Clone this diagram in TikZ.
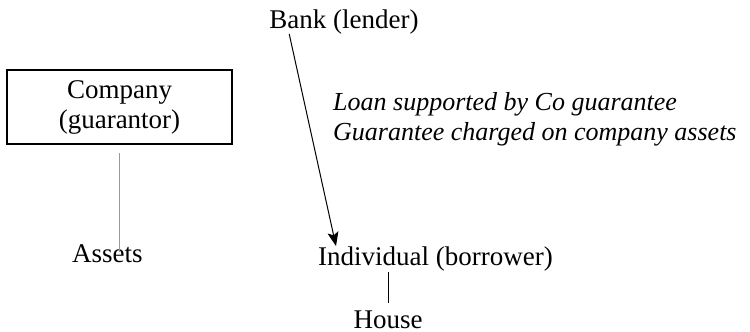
\documentclass[tikz,border=0pt]{standalone}
\usepackage{fontspec}
\setmainfont{Liberation Serif}
\usetikzlibrary{arrows.meta}
\tikzset{
  lbl/.style={inner sep=0pt, font=\fontsize{27}{30}\selectfont},
  boxnode/.style={draw, line width=2.8pt, inner sep=0pt, minimum width=225pt, minimum height=74pt, align=center, font=\fontsize{27}{30}\selectfont},
  note/.style={inner sep=0pt, align=left, font=\fontsize{26}{30}\selectfont\itshape},
  link/.style={line width=1pt, -{Stealth[length=14pt,width=11pt,inset=3pt]}},
  tie/.style={line width=1pt},
  greytie/.style={line width=1.5pt, black!40}
}
\begin{document}
\begin{tikzpicture}[x=1pt,y=-1pt]
\useasboundingbox (0,0) rectangle (750,332);
\node[lbl, anchor=base] (bank) at (344,28) {Bank (lender)};
\node[boxnode] (company) at (119.5,107) {Company\\(guarantor)};
\node[note, anchor=base west] (notes) at (333,140) {Loan supported by Co guarantee\\Guarantee charged on company assets};
\node[lbl, anchor=base west] (assets) at (72,262) {Assets};
\node[lbl, anchor=base west] (ind) at (318,265) {Individual (borrower)};
\node[lbl, anchor=base] (house) at (388,328) {House};
\draw[link] ([xshift=20pt]bank.south west) -- ([xshift=18pt]ind.north west);
\draw[greytie] ([yshift=-8pt]company.south) -- ([yshift=-8pt]company.south |- assets.north);
\draw[tie] ([yshift=-1pt]house.north |- ind.south) -- ([yshift=7pt]house.north);
\end{tikzpicture}
\end{document}
